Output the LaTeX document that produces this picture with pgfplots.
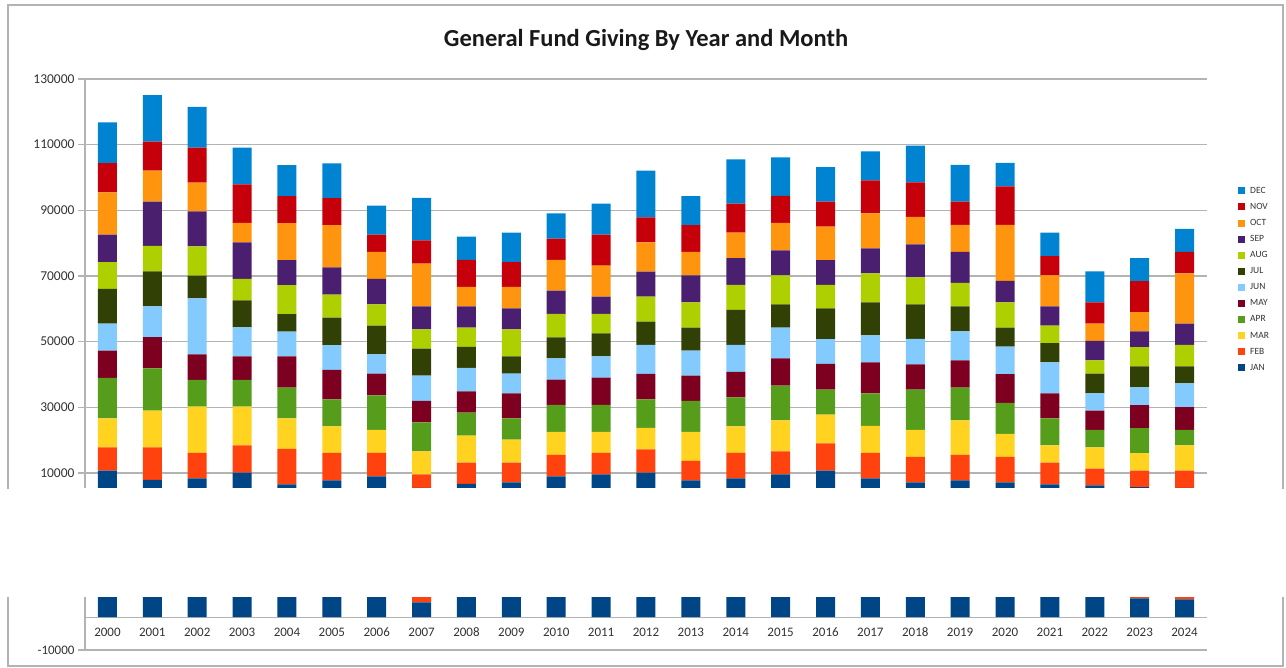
\documentclass[border=0pt]{standalone}
\usepackage{fontspec}
\setmainfont{Carlito}
\usepackage{pgfplots}
\pgfplotsset{compat=1.18}
\usepackage{pgfplotstable}
\definecolor{cJAN}{HTML}{004586}
\definecolor{cFEB}{HTML}{FF420E}
\definecolor{cMAR}{HTML}{FFD320}
\definecolor{cAPR}{HTML}{579D1C}
\definecolor{cMAY}{HTML}{7E0021}
\definecolor{cJUN}{HTML}{83CAFF}
\definecolor{cJUL}{HTML}{314004}
\definecolor{cAUG}{HTML}{AECF00}
\definecolor{cSEP}{HTML}{4B1F6F}
\definecolor{cOCT}{HTML}{FF950E}
\definecolor{cNOV}{HTML}{C5000B}
\definecolor{cDEC}{HTML}{0084D1}
\definecolor{gridc}{HTML}{B3B3B3}
\pgfplotstableread{
x JAN FEB MAR APR MAY JUN JUL AUG SEP OCT NOV DEC
0 10700 7100 8850 12300 8300 8250 10550 8200 8350 12900 8900 12400
1 7870 9950 11170 12890 9540 9340 10660 7720 13500 9440 8830 14210
2 8380 7720 14110 8120 7820 17060 6900 8930 10660 8730 10660 12390
3 10100 8330 11780 8120 7210 8830 8220 6500 11170 5890 11780 11170
4 6550 10760 9340 9340 9540 7510 5380 8830 7610 11270 8220 9440
5 7770 8330 8120 8220 8930 7610 8330 7000 8330 12890 8220 10560
6 8990 7110 7000 10560 6600 5890 8730 6500 7720 8220 5280 8830
7 4530 5070 7010 8830 6500 7720 8220 5890 7000 13000 7110 12890
8 6650 6500 8220 7000 6500 7110 6400 5890 6500 5890 8220 7110
9 7160 5990 7000 6500 7610 5990 5280 8220 6400 6500 7610 8930
10 8990 6500 7000 8220 7720 6500 6400 7110 7110 9340 6500 7720
11 9600 6500 6400 8220 8320 6500 7000 5890 5280 9440 9440 9440
12 10100 7110 6500 8730 7720 8830 7110 7610 7610 8930 7610 14210
13 7770 5890 8830 9440 7720 7610 7000 7720 8220 7110 8220 8830
14 8380 7720 8120 8830 7720 8220 10660 7610 8220 7720 8830 13500
15 9600 7000 9440 10560 8330 9340 7110 8830 7610 8330 8220 11780
16 10710 8330 8730 7610 7820 7610 9340 7110 7610 10150 7610 10560
17 8380 7720 8220 9950 9440 8220 10050 8830 7610 10660 10050 8830
18 7160 7720 8220 12280 7720 7720 10560 8220 10050 8320 10560 11170
19 7770 7720 10560 9950 8330 8830 7610 7110 9440 8220 7110 11170
20 7160 7720 7000 9440 8830 8320 5790 7720 6500 17060 11780 7110
21 6550 6600 5280 8220 7610 9440 5890 5280 5890 9440 5890 7110
22 6200 5120 6500 5280 5890 5280 5990 4060 5890 5280 6500 9440
23 5700 5010 5380 7610 7000 5380 6400 5890 4770 5890 9440 7010
24 5400 5310 7720 4670 7000 7210 5180 6500 6500 15330 6500 7010
}\giving
\begin{document}
\begin{tikzpicture}
\path[use as bounding box] (0,0) rectangle (1286pt,-668pt);
\draw[gridc, line width=1.2pt] (8pt,-5pt) rectangle (1283pt,-666pt);
\node[font=\bfseries\fontsize{24.5}{28}\selectfont, text=black!90] at (646pt,-40pt) {General Fund Giving By Year and Month};
\begin{axis}[
  at={(85pt,-79pt)}, anchor=north west, scale only axis,
  width=1122pt, height=409pt,
  xmin=-0.5, xmax=24.5, ymin=5431, ymax=130000,
  ybar stacked, bar width=19pt,
  axis x line=none, axis y line=left,
  axis line style={-, draw=gridc, line width=1.2pt},
  ytick={10000,30000,...,130000}, ymajorgrids,
  major grid style={gridc, line width=1.3pt},
  tick align=outside, major tick length=7pt,
  tick style={gridc, line width=1.2pt},
  yticklabel style={font=\fontsize{13.5}{13.5}\selectfont, text=black!80},
  /pgf/number format/fixed,
  /pgf/number format/assume math mode=true,
  /pgf/number format/1000 sep={}, scaled y ticks=false,
  reverse legend,
  legend style={at={(1.0276,0.7467)}, anchor=north west, draw=none, fill=none,
    inner sep=0pt, font=\fontsize{9.5}{9.5}\selectfont,
    nodes={inner sep=0pt, minimum height=16.1pt, text=black!80},
    /tikz/every odd column/.append style={column sep=5pt}},
  legend cell align=left,
  legend image code/.code={\fill[#1] (0pt,-3.5pt) rectangle (7pt,3.5pt);},
]
\addplot[fill=cJAN, draw=none] table[x=x,y=JAN]{\giving};
\addplot[fill=cFEB, draw=none] table[x=x,y=FEB]{\giving};
\addplot[fill=cMAR, draw=none] table[x=x,y=MAR]{\giving};
\addplot[fill=cAPR, draw=none] table[x=x,y=APR]{\giving};
\addplot[fill=cMAY, draw=none] table[x=x,y=MAY]{\giving};
\addplot[fill=cJUN, draw=none] table[x=x,y=JUN]{\giving};
\addplot[fill=cJUL, draw=none] table[x=x,y=JUL]{\giving};
\addplot[fill=cAUG, draw=none] table[x=x,y=AUG]{\giving};
\addplot[fill=cSEP, draw=none] table[x=x,y=SEP]{\giving};
\addplot[fill=cOCT, draw=none] table[x=x,y=OCT]{\giving};
\addplot[fill=cNOV, draw=none] table[x=x,y=NOV]{\giving};
\addplot[fill=cDEC, draw=none] table[x=x,y=DEC]{\giving};
\legend{JAN,FEB,MAR,APR,MAY,JUN,JUL,AUG,SEP,OCT,NOV,DEC}
\end{axis}
\fill[white] (0pt,-488.5pt) rectangle (1286pt,-596.5pt);
\begin{axis}[
  at={(85pt,-597pt)}, anchor=north west, scale only axis,
  width=1122pt, height=53pt,
  xmin=-0.5, xmax=24.5, ymin=-10000, ymax=6142,
  ybar stacked, bar width=19pt,
  axis x line=middle, axis y line=left,
  axis line style={-, draw=gridc, line width=1.2pt},
  xtick={0,...,24},
  xticklabels={2000,2001,2002,2003,2004,2005,2006,2007,2008,2009,2010,2011,2012,2013,2014,2015,2016,2017,2018,2019,2020,2021,2022,2023,2024},
  x tick style={draw=none},
  minor xtick={-0.5,0.5,...,24.5},
  minor x tick style={gridc, line width=1.2pt},
  minor tick length=5pt,
  ytick={-10000}, ymajorgrids,
  major grid style={gridc, line width=1.3pt},
  tick align=outside, major tick length=7pt,
  y tick style={gridc, line width=1.2pt},
  ticklabel style={font=\fontsize{13}{13}\selectfont, text=black!80},
  /pgf/number format/fixed,
  /pgf/number format/assume math mode=true,
  /pgf/number format/1000 sep={}, scaled y ticks=false,
]
\addplot[fill=cJAN, draw=none] table[x=x,y=JAN]{\giving};
\addplot[fill=cFEB, draw=none] table[x=x,y=FEB]{\giving};
\end{axis}
\end{tikzpicture}
\end{document}
